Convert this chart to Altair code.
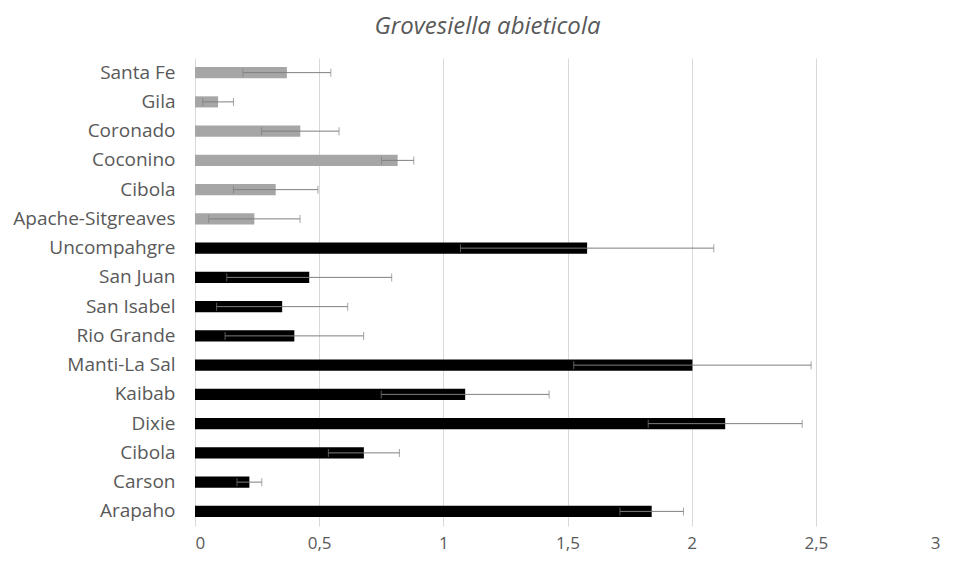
import altair as alt
import pandas as pd

forests = ["Santa Fe", "Gila", "Coronado", "Coconino", "Cibola", "Apache-Sitgreaves",
           "Uncompahgre", "San Juan", "San Isabel", "Rio Grande", "Manti-La Sal",
           "Kaibab", "Dixie", "Cibola", "Carson", "Arapaho"]
means = [0.37, 0.093, 0.424, 0.816, 0.325, 0.239,
         1.579, 0.460, 0.351, 0.400, 2.003,
         1.088, 2.135, 0.680, 0.219, 1.839]
errors = [0.177, 0.062, 0.156, 0.065, 0.17, 0.184,
          0.51, 0.332, 0.264, 0.279, 0.478,
          0.338, 0.31, 0.143, 0.05, 0.128]
groups = ["Southwest"] * 6 + ["Rocky Mountain"] * 10

keys = [f"{f}|{i}" for i, f in enumerate(forests)]
df = pd.DataFrame({
    "key": keys, "forest": forests, "mean": means, "err": errors, "group": groups,
})
df["lo"] = df["mean"] - df["err"]
df["hi"] = df["mean"] + df["err"]

FONT = "Open Sans"
TXT = "#595959"

y_enc = alt.Y("key:N", sort=keys, title=None,
              scale=alt.Scale(paddingInner=0.62, paddingOuter=0.31),
              axis=alt.Axis(labelExpr="split(datum.label, '|')[0]", labelFontSize=19,
                            labelColor=TXT, labelFont=FONT, ticks=False, domain=False,
                            labelPadding=20, minExtent=187, maxExtent=187, grid=False))

x_scale = alt.Scale(domain=[0, 3], nice=False)

bars = alt.Chart(df).mark_bar().encode(
    x=alt.X("mean:Q", scale=x_scale, title=None,
            axis=alt.Axis(values=[0, 0.5, 1, 1.5, 2, 2.5, 3],
                          labelExpr="replace(format(datum.value, '~g'), '.', ',')",
                          labelFontSize=17, labelColor=TXT, labelFont=FONT,
                          ticks=False, domain=False, labelPadding=9,
                          grid=True, gridColor="#d9d9d9", gridWidth=1)),
    y=y_enc,
    color=alt.Color("group:N", scale=alt.Scale(domain=["Southwest", "Rocky Mountain"],
                                              range=["#a6a6a6", "#000000"]), legend=None),
)

rule = alt.Chart(df).mark_rule(color="#7f7f7f", strokeWidth=1).encode(
    x=alt.X("lo:Q", scale=x_scale), x2="hi:Q", y=alt.Y("key:N", sort=keys))

cap_lo = alt.Chart(df).mark_tick(color="#7f7f7f", thickness=1, size=8).encode(
    x=alt.X("lo:Q", scale=x_scale), y=alt.Y("key:N", sort=keys))
cap_hi = alt.Chart(df).mark_tick(color="#7f7f7f", thickness=1, size=8).encode(
    x=alt.X("hi:Q", scale=x_scale), y=alt.Y("key:N", sort=keys))

chart = alt.layer(bars, rule, cap_lo, cap_hi).properties(
    width=745, height=468,
    background="white",
    title=alt.TitleParams("Grovesiella abieticola", fontSize=24, fontStyle="italic",
                          font=FONT, color=TXT, fontWeight="normal", anchor="middle",
                          offset=19, dx=-80),
    padding={"left": 0, "top": 7, "right": 0, "bottom": 1},
).configure_view(stroke=None, strokeWidth=0)

chart.save("out.html", embed_options={"renderer": "svg", "actions": False})
